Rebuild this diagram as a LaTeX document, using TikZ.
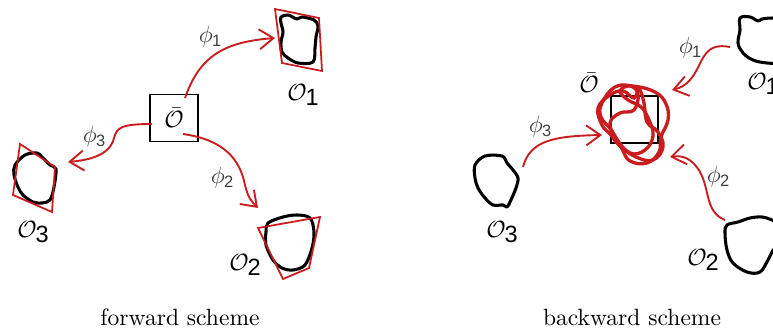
\documentclass[tikz,border=0pt]{standalone}
\usepackage{fontspec}
\setsansfont{Liberation Sans}
\usetikzlibrary{arrows.meta}
\definecolor{myred}{RGB}{200,28,30}
\newcommand{\Olab}[1]{$\mathcal{O}$\kern-0.5pt\raisebox{-2pt}{\sffamily #1}}
\newcommand{\philab}[1]{$\phi$\kern-0.3pt\raisebox{-1.5pt}{\sffamily\scriptsize #1}}
\begin{document}
\begin{tikzpicture}[x=0.425pt,y=-0.425pt,
  blob/.style={line width=1.3pt,black,line join=round},
  quad/.style={line width=0.75pt,myred,line join=miter},
  morph/.style={line width=0.8pt,myred,-{Straight Barb[length=6pt,width=8.5pt]}},
  scrib/.style={line width=1.4pt,myred},
  plab/.style={text=black!75,inner sep=0pt},
  olab/.style={inner sep=0pt},
  captext/.style={inner sep=0pt}]
\useasboundingbox (0,0) rectangle (773,331);
\clip (0,0) rectangle (773,331);

% ---------------- forward scheme ----------------
\node[draw,line width=0.7pt,minimum width=20.4pt,minimum height=20pt,inner sep=0pt] (boxL) at (174,118) {$\bar{\mathcal{O}}$};

% O1
\draw[blob] plot[smooth cycle,tension=0.55] coordinates {(281,17) (288,15) (297,19) (302,17) (314,20) (318,26) (316,37) (315,48) (313,62) (298,63) (288,58) (282,52) (281,42) (283,32) (281,23)};
\draw[quad] (275,9) -- (319,18) -- (322,71) -- (282,63) -- cycle;
% O3
\draw[blob] plot[smooth cycle,tension=0.55] coordinates {(15,165) (25,155) (37,153) (42,157) (50,165) (56,169) (54,187) (50,200) (42,203) (33,202) (23,195) (18,187) (14,175)};
\draw[quad] (20,144) -- (55,167) -- (52,212) -- (13,195) -- cycle;
% O2
\draw[blob] plot[smooth cycle,tension=0.55] coordinates {(268,223) (283,217) (297,215) (310,218) (314,232) (312,248) (305,265) (293,270) (282,268) (273,260) (266,245) (266,232)};
\draw[quad] (258,228) -- (320,217) -- (309,268) -- (283,279) -- cycle;

\node[olab] (O1L) at (303,95) {\Olab{1}};
\node[olab] (O3L) at (33,232) {\Olab{3}};
\node[olab] (O2L) at (245,265) {\Olab{2}};

\coordinate (a1s) at (185,98);
\coordinate (a1e) at (275,38);
\coordinate (a3s) at (152,124);
\coordinate (a3e) at (68,162);
\coordinate (a2s) at (183,134);
\coordinate (a2e) at (258,208);
\draw[morph] (a1s) .. controls (200,55) and (225,42) .. (a1e);
\draw[morph] (a3s) .. controls (120,124) and (117,128) .. (114,138) .. controls (110,155) and (90,160) .. (a3e);
\draw[morph] (a2s) .. controls (225,140) and (240,160) .. (245,185) .. controls (248,198) and (252,202) .. (a2e);

\node[plab] (p1L) at (210,37) {\philab{1}};
\node[plab] (p3L) at (94,137) {\philab{3}};
\node[plab] (p2L) at (222,178) {\philab{2}};

\node[captext] (capL) at (180,317) {forward scheme};

% ---------------- backward scheme ----------------
\node[draw,line width=0.7pt,minimum width=20pt,minimum height=20pt,inner sep=0pt] (boxR) at (634.5,119.5) {};
\node[olab] (ObarR) at (589,83) {$\bar{\mathcal{O}}$};

% scribble
\draw[scrib] plot[smooth cycle,tension=0.7] coordinates {(602,103) (615,87) (633,86) (655,92) (666,104) (668,120) (661,137) (659,152) (647,163) (630,161) (622,149) (612,131) (601,117)};
\draw[scrib] plot[smooth cycle,tension=0.7] coordinates {(598,108) (610,95) (623,91) (634,98) (639,89) (644,103) (647,122) (658,132) (663,147) (653,160) (636,157) (620,146) (610,134) (602,125)};
\draw[scrib] plot[smooth cycle,tension=0.7] coordinates {(620,91) (630,86) (638,94) (634,110) (620,113) (610,123) (616,138) (630,153) (645,150) (653,136) (649,120) (641,107) (628,100)};

% O1 right
\draw[blob] plot[smooth,tension=0.6] coordinates {(790,19) (773,18) (762,19) (758,21) (750,17) (740,18) (740,30) (738,43) (743,53) (753,60) (767,63) (790,64)};
% O3 right
\draw[blob] plot[smooth cycle,tension=0.55] coordinates {(475,165) (485,156) (502,156) (507,163) (513,170) (518,178) (516,188) (510,202) (507,207) (503,205) (493,205) (485,198) (478,188) (475,178)};
% O2 right
\draw[blob] plot[smooth,tension=0.6] coordinates {(790,228) (772,220) (762,217) (750,218) (738,222) (727,225) (725,233) (727,250) (733,263) (747,272) (760,272) (768,260) (775,248) (790,240)};

\node[olab] (O1R) at (763,84) {\Olab{1}};
\node[olab] (O3R) at (502,232) {\Olab{3}};
\node[olab] (O2R) at (703,260) {\Olab{2}};

\coordinate (b1s) at (730,47);
\coordinate (b1e) at (672,90);
\coordinate (b3s) at (523,167);
\coordinate (b3e) at (602,135);
\coordinate (b2s) at (725,220);
\coordinate (b2e) at (670,157);
\draw[morph] (b1s) .. controls (705,42) and (703,60) .. (695,73) .. controls (688,85) and (680,88) .. (b1e);
\draw[morph] (b3s) .. controls (530,140) and (555,136) .. (b3e);
\draw[morph] (b2s) .. controls (705,212) and (710,190) .. (700,172) .. controls (692,158) and (682,155) .. (b2e);

\node[plab] (p1R) at (690,48) {\philab{1}};
\node[plab] (p3R) at (540,127) {\philab{3}};
\node[plab] (p2R) at (718,177) {\philab{2}};

\node[captext] (capR) at (632,317) {backward scheme};
\end{tikzpicture}
\end{document}
